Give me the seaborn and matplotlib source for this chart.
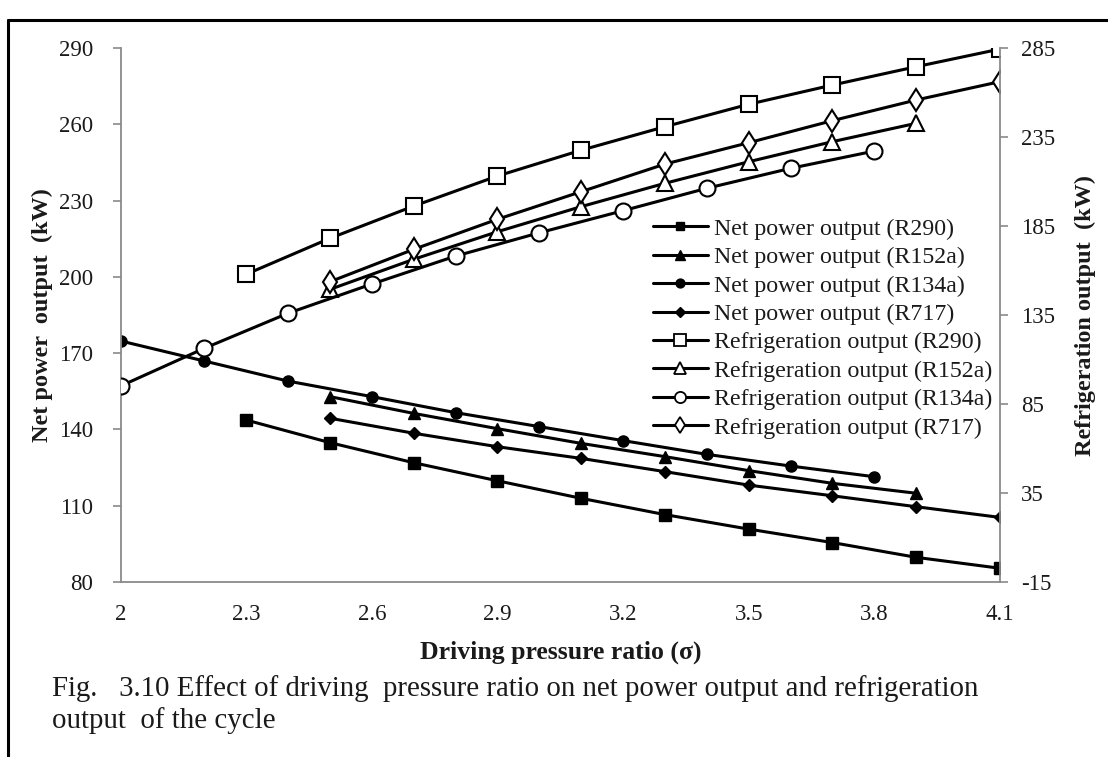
import matplotlib
matplotlib.use("Agg")
import matplotlib.pyplot as plt
from matplotlib.lines import Line2D
import seaborn as sns

# ---------------- data ----------------
x_r290 = [2.3, 2.5, 2.7, 2.9, 3.1, 3.3, 3.5, 3.7, 3.9, 4.1]
x_r152a = [2.5, 2.7, 2.9, 3.1, 3.3, 3.5, 3.7, 3.9]
x_r134a = [2.0, 2.2, 2.4, 2.6, 2.8, 3.0, 3.2, 3.4, 3.6, 3.8]
x_r717 = [2.5, 2.7, 2.9, 3.1, 3.3, 3.5, 3.7, 3.9, 4.1]

net_r290 = [143.7, 134.8, 126.9, 119.8, 112.9, 106.5, 100.8, 95.5, 89.7, 85.4]
net_r152a = [152.9, 146.3, 140.3, 134.5, 129.3, 123.8, 118.8, 114.9]
net_r134a = [174.8, 166.9, 159.0, 152.9, 146.6, 141.1, 135.6, 130.2, 125.6, 121.4]
net_r717 = [144.4, 138.5, 133.2, 128.6, 123.4, 118.1, 113.9, 109.6, 105.4]

ref_r290 = [157.9, 178.1, 196.2, 213.1, 227.6, 240.8, 253.4, 264.2, 274.5, 284.4]
ref_r152a = [149.4, 166.3, 181.8, 195.9, 209.0, 221.1, 232.4, 242.7]
ref_r134a = [95.1, 116.3, 136.0, 152.4, 168.1, 181.2, 193.6, 206.2, 217.4, 227.1]
ref_r717 = [153.7, 171.9, 188.8, 204.3, 219.8, 231.8, 244.2, 255.8, 266.1]

x_ticks = [2.0, 2.3, 2.6, 2.9, 3.2, 3.5, 3.8, 4.1]
x_ticklabels = ["2", "2.3", "2.6", "2.9", "3.2", "3.5", "3.8", "4.1"]
left_ticks = [80, 110, 140, 170, 200, 230, 260, 290]
right_ticks = [-15, 35, 85, 135, 185, 235, 285]

net_labels = ["Net power output (R290)", "Net power output (R152a)",
              "Net power output (R134a)", "Net power output (R717)"]
ref_labels = ["Refrigeration output (R290)", "Refrigeration output (R152a)",
              "Refrigeration output (R134a)", "Refrigeration output (R717)"]

# ---------------- style ----------------
sns.set_style("white")
plt.rcParams['font.family'] = ['Liberation Serif', 'DejaVu Serif']

W, H = 1108, 757
fig = plt.figure(figsize=(W / 100, H / 100), dpi=100)
L, R, T, B = 120.6, 1000.0, 48.0, 582.0
ax = fig.add_axes([L / W, 1 - B / H, (R - L) / W, (B - T) / H])
ax2 = ax.twinx()

LW = 2.2
net_specs = [
    (x_r290, net_r290, 's', 8.0),
    (x_r152a, net_r152a, '^', 9.0),
    (x_r134a, net_r134a, 'o', 8.0),
    (x_r717, net_r717, 'D', 6.0),
]
ref_specs = [
    (x_r290, ref_r290, 's', 11.5),
    (x_r152a, ref_r152a, '^', 11.5),
    (x_r134a, ref_r134a, 'o', 11.5),
    (x_r717, ref_r717, 'd', 11.5),
]

handles = []
for (xs, ys, m, ms), lab in zip(net_specs, net_labels):
    sns.lineplot(x=xs, y=ys, ax=ax, color='black', lw=LW, marker=m,
                 markersize=ms, markerfacecolor='black',
                 markeredgecolor='black', markeredgewidth=1.0, legend=False)
    handles.append(Line2D([], [], color='black', lw=LW, marker=m,
                          markersize=ms * 0.8, markerfacecolor='black',
                          markeredgecolor='black', label=lab))
for (xs, ys, m, ms), lab in zip(ref_specs, ref_labels):
    sns.lineplot(x=xs, y=ys, ax=ax2, color='black', lw=LW, marker=m,
                 markersize=ms, markerfacecolor='white',
                 markeredgecolor='black', markeredgewidth=1.5, legend=False)
    handles.append(Line2D([], [], color='black', lw=LW, marker=m,
                          markersize=ms * 0.7, markerfacecolor='white',
                          markeredgecolor='black', markeredgewidth=1.3,
                          label=lab))

ax.set_xlim(2.0, 4.1)
ax.set_ylim(80, 290)
ax2.set_ylim(-15, 285)
ax.set_xticks(x_ticks)
ax.set_xticklabels(x_ticklabels)
ax.set_yticks(left_ticks)
ax.set_yticklabels([str(v) for v in left_ticks])
ax2.set_yticks(right_ticks)
ax2.set_yticklabels([str(v) for v in right_ticks])

gray = '#8a8a8a'
txt = '#1a1a1a'
for a in (ax, ax2):
    a.spines['top'].set_visible(False)
    for s in ('left', 'bottom', 'right'):
        a.spines[s].set_color(gray)
        a.spines[s].set_linewidth(1.3)
    a.grid(False)
    a.set_facecolor('none')
ax.spines['right'].set_visible(False)
ax2.spines['left'].set_visible(False)
ax2.spines['bottom'].set_visible(False)

ax.tick_params(axis='both', direction='out', length=6, width=1.2, color=gray,
               labelsize=16.5, labelcolor=txt, pad=14)
ax.tick_params(axis='x', pad=10)
ax2.tick_params(axis='y', direction='out', length=6, width=1.2, color=gray,
                labelsize=16.5, labelcolor=txt, pad=9)

ax.set_xlabel("Driving pressure ratio (σ)", fontsize=18.5, fontweight='bold',
              color=txt, labelpad=11)
ax.set_ylabel("Net power  output  (kW)", fontsize=17.5, fontweight='bold',
              color=txt, labelpad=4)
ax2.set_ylabel("Refrigeration output  (kW)", fontsize=17.5, fontweight='bold',
               color=txt, labelpad=14)

leg = ax2.legend(handles=handles, loc='upper left',
                 bbox_to_anchor=(653 / W, 1 - 218 / H),
                 bbox_transform=fig.transFigure, frameon=False,
                 fontsize=17.2, handlelength=2.3, handletextpad=0.25,
                 labelspacing=0.28, borderpad=0, borderaxespad=0)
for t in leg.get_texts():
    t.set_color(txt)

# caption
fig.text(52 / W, 1 - 689 / H,
         "Fig.   3.10 Effect of driving  pressure ratio on net power output and refrigeration",
         fontsize=20.8, color=txt, va='center', ha='left')
fig.text(52 / W, 1 - 721 / H, "output  of the cycle",
         fontsize=20.8, color=txt, va='center', ha='left')

# page frame (top and left rules)
fig.add_artist(Line2D([7.5 / W, 7.5 / W], [0, 1 - 20 / H],
                      transform=fig.transFigure, color='black', lw=2.2))
fig.add_artist(Line2D([7.5 / W, 1], [1 - 20 / H, 1 - 20 / H],
                      transform=fig.transFigure, color='black', lw=2.2))

fig.savefig("out.png", dpi=100, facecolor='white')
